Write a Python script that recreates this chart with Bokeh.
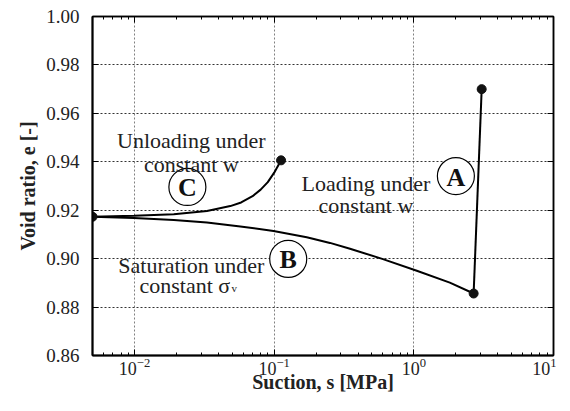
from bokeh.plotting import figure
from bokeh.models import (Range1d, LogAxis, LinearAxis, FixedTicker, LogTicker,
                          PrintfTickFormatter, CustomJSTickFormatter)
from bokeh.core.properties import value
from bokeh.embed import file_html
from bokeh.resources import INLINE

# Path C: unloading under constant w
c_s = [0.005, 0.0099, 0.0191, 0.0330, 0.0485, 0.058, 0.070, 0.080, 0.090, 0.100, 0.112]
c_e = [0.9173, 0.9177, 0.9183, 0.9197, 0.9217, 0.9232, 0.9258, 0.9285, 0.9316, 0.9355, 0.9406]

# Path B: saturation under constant sigma_v
b_s = [0.005, 0.0099, 0.0191, 0.0330, 0.0572, 0.0989, 0.171, 0.251, 0.349, 0.601, 1.05, 1.81, 2.68]
b_e = [0.9173, 0.9168, 0.9160, 0.9149, 0.9133, 0.9114, 0.9088, 0.9065, 0.9041, 0.8998, 0.8950, 0.8901, 0.8856]

# Path A: loading under constant w
a_s = [2.68, 3.06]
a_e = [0.8856, 0.970]

# end points
dot_s = [0.005, 0.112, 2.68, 3.06]
dot_e = [0.9173, 0.9406, 0.8856, 0.970]

y_ticks = [0.86, 0.88, 0.90, 0.92, 0.94, 0.96, 0.98, 1.00]

# circled labels
lab_txt = ["A", "B", "C"]
lab_s = [2.0, 0.126, 0.0239]
lab_e = [0.9341, 0.8999, 0.9296]

x_title = "Suction, s [MPa]"
y_title = "Void ratio, e [-]"

SERIF = "Liberation Serif"

p = figure(width=556, height=395, x_axis_type="log",
           x_range=Range1d(0.005, 10), y_range=Range1d(0.86, 1.0),
           output_backend="svg", toolbar_location=None,
           min_border_left=92, min_border_right=3, min_border_top=16, min_border_bottom=35)
p.outline_line_color = "black"
p.outline_line_width = 1.5
p.background_fill_color = "white"
p.border_fill_color = "white"

# axes
xa = p.xaxis[0]
xa.ticker = LogTicker(num_minor_ticks=10)
xa.axis_label = x_title
ya = p.yaxis[0]
ya.ticker = FixedTicker(ticks=y_ticks)
ya.formatter = PrintfTickFormatter(format="%.2f")
ya.axis_label = y_title
for ax in (xa, ya):
    ax.axis_line_color = "black"
    ax.axis_line_width = 2
    ax.major_tick_in = 6
    ax.major_tick_out = 0
    ax.minor_tick_in = 3
    ax.minor_tick_out = 0
    ax.major_tick_line_color = "black"
    ax.minor_tick_line_color = "black"
    ax.major_label_text_font = SERIF
    ax.major_label_text_color = "#222222"
    ax.axis_label_text_font = SERIF
    ax.axis_label_text_font_style = "bold"
    ax.axis_label_text_color = "#222222"
xa.major_label_text_font_size = "18px"
ya.major_label_text_font_size = "19px"
xa.axis_label_text_font_size = "20px"
ya.axis_label_text_font_size = "20px"
ya.minor_tick_line_color = None
xa.major_label_standoff = 2
xa.axis_label_standoff = -7
ya.major_label_standoff = 13
ya.axis_label_standoff = 4

top = LogAxis(ticker=LogTicker(num_minor_ticks=10), formatter=CustomJSTickFormatter(code="return '';"),
              major_tick_in=6, major_tick_out=0, minor_tick_in=3, minor_tick_out=0,
              major_label_standoff=0, axis_line_width=1.5)
p.add_layout(top, "above")
right = LinearAxis(ticker=FixedTicker(ticks=y_ticks), formatter=CustomJSTickFormatter(code="return '';"),
                   major_tick_in=6, major_tick_out=0, minor_tick_line_color=None,
                   major_label_standoff=0, axis_line_width=1.5)
p.add_layout(right, "right")

# grid
p.xgrid.grid_line_color = "#808080"
p.xgrid.grid_line_dash = "2 2"
p.xgrid.grid_line_width = 1
p.ygrid.ticker = FixedTicker(ticks=y_ticks)
p.ygrid.grid_line_color = "#333333"
p.ygrid.grid_line_dash = "2 2"
p.ygrid.grid_line_width = 1

# curves
p.line(c_s, c_e, line_color="black", line_width=2)
p.line(b_s, b_e, line_color="black", line_width=2)
p.line(a_s, a_e, line_color="black", line_width=2)
p.scatter(dot_s, dot_e, size=9, marker="circle", fill_color="#111111", line_color="#111111")

# circled letters
p.scatter(lab_s, lab_e, size=37, marker="circle", fill_color="white",
          line_color="black", line_width=1.2)
p.text(lab_s, lab_e, text=lab_txt, text_font=value(SERIF), text_font_size="26px",
       text_font_style="bold", text_align="center", text_baseline="middle",
       text_color="#111111", y_offset=1)

# annotations
ann_kw = dict(text_font=value(SERIF), text_font_size="22px", text_color="#222222",
              text_baseline="alphabetic")
p.text([0.0255], [0.9487], text=["Unloading under"], text_align="center", **ann_kw)
p.text([0.0255], [0.9390], text=["constant w"], text_align="center", **ann_kw)
p.text([0.454], [0.9312], text=["Loading under"], text_align="center", **ann_kw)
p.text([0.454], [0.9219], text=["constant w"], text_align="center", **ann_kw)
p.text([0.0255], [0.8973], text=["Saturation under"], text_align="center", **ann_kw)
p.text([0.01086], [0.8888], text=["constant σ"], text_align="left", **ann_kw)
p.text([0.01086], [0.8880], text=["v"], text_align="left", x_offset=92,
       text_font=value(SERIF), text_font_size="11px", text_color="#222222",
       text_baseline="alphabetic")

open("out.html", "w").write(file_html(p, INLINE))
